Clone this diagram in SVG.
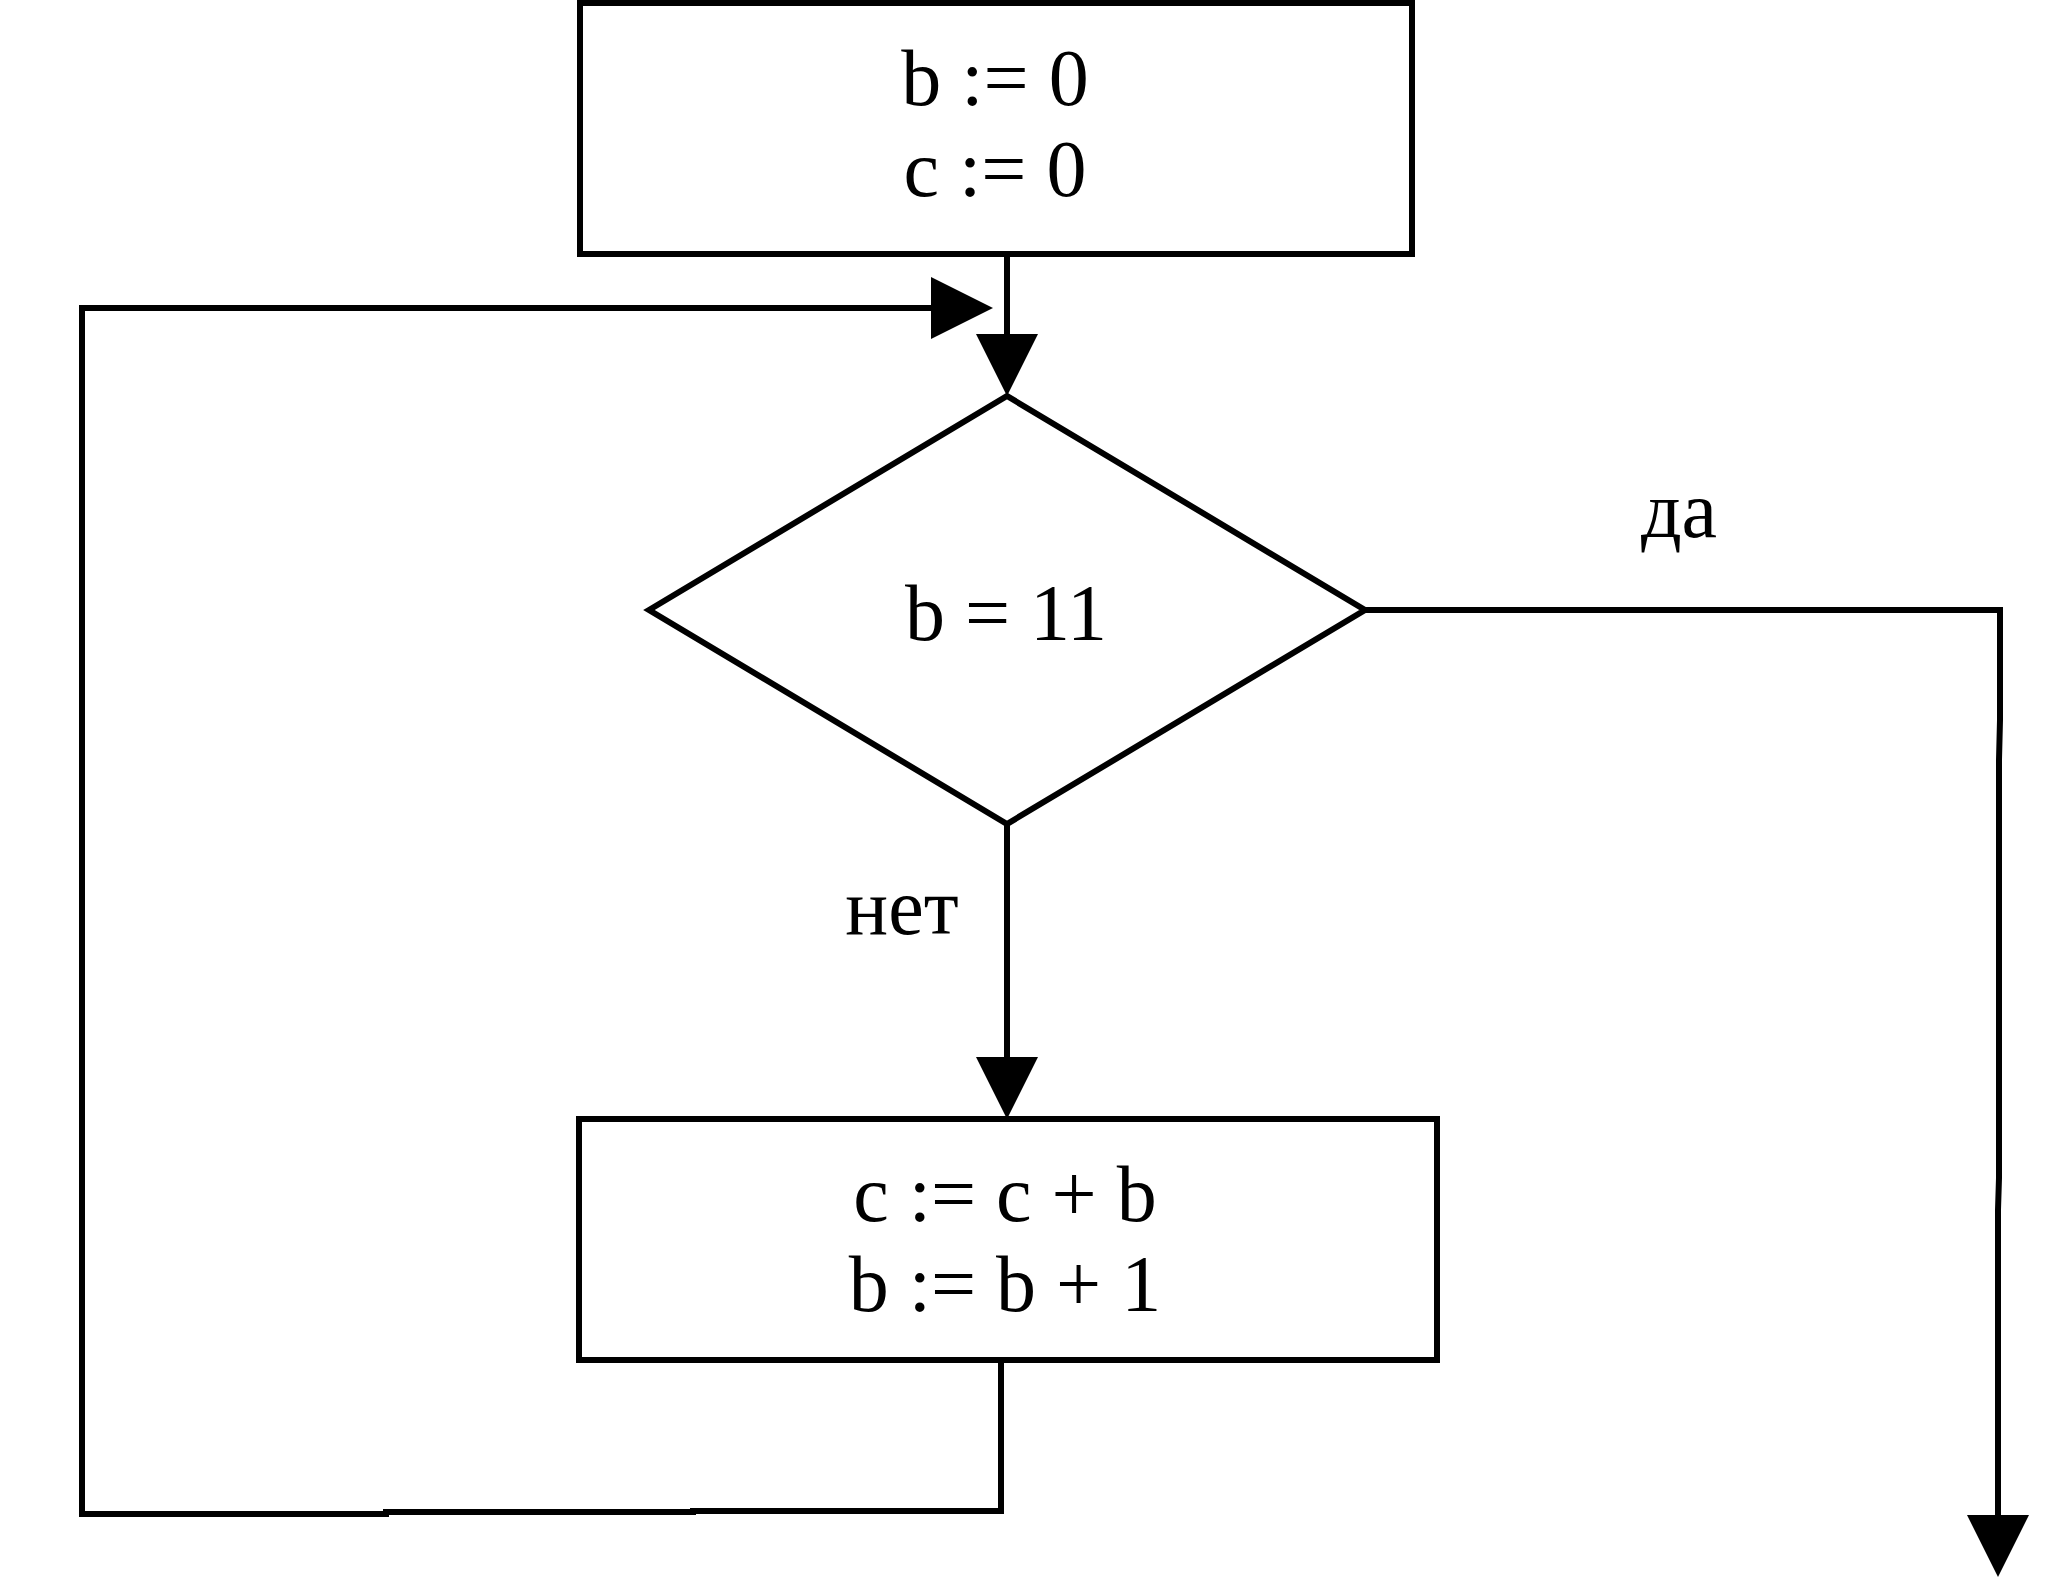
<svg xmlns="http://www.w3.org/2000/svg" width="2048" height="1590" viewBox="0 0 2048 1590">
  <style>
    .shape { fill: #ffffff; stroke: #000000; stroke-width: 6; stroke-linejoin: miter; }
    .line { fill: none; stroke: #000000; stroke-width: 6; stroke-linejoin: miter; }
    .txt { font-family: "Liberation Serif", "Times New Roman", serif; font-size: 80px; fill: #000000; text-anchor: middle; }
  </style>
  <defs>
    <marker id="arrow" markerUnits="userSpaceOnUse" markerWidth="62" markerHeight="62" viewBox="0 0 62 62" refX="0" refY="31" orient="auto" overflow="visible">
      <path d="M0,0 L62,31 L0,62 Z" fill="#000000"/>
    </marker>
  </defs>
  <rect width="2048" height="1590" fill="#ffffff"/>

  <g id="connectors">
    <path class="line" d="M1007,255 L1007,334" marker-end="url(#arrow)"/>
    <path class="line" d="M1001,1360 L1001,1511 L693,1511 L693,1512 L386,1512 L386,1514 L82,1514 L82,308 L931,308" marker-end="url(#arrow)"/>
    <path class="line" d="M1007,824 L1007,1057" marker-end="url(#arrow)"/>
    <path class="line" d="M1365,610 L2000,610 L2000,720 L1999,760 L1999,1178 L1998,1210 L1998,1515" marker-end="url(#arrow)"/>
  </g>

  <g id="node-init">
    <rect class="shape" x="580" y="3" width="832" height="251"/>
    <text class="txt" x="995" y="105">b := 0</text>
    <text class="txt" x="995" y="196">c := 0</text>
  </g>

  <g id="node-cond">
    <polygon class="shape" points="649,610 1007,396 1365,610 1007,824"/>
    <text class="txt" x="1006" y="640">b = 11</text>
  </g>

  <g id="node-body">
    <rect class="shape" x="579" y="1119" width="858" height="241"/>
    <text class="txt" x="1005" y="1221">c := c + b</text>
    <text class="txt" x="1005" y="1311">b := b + 1</text>
  </g>

  <g id="labels">
    <text class="txt" x="1679" y="537">да</text>
    <text class="txt" x="902" y="934">нет</text>
  </g>
</svg>
